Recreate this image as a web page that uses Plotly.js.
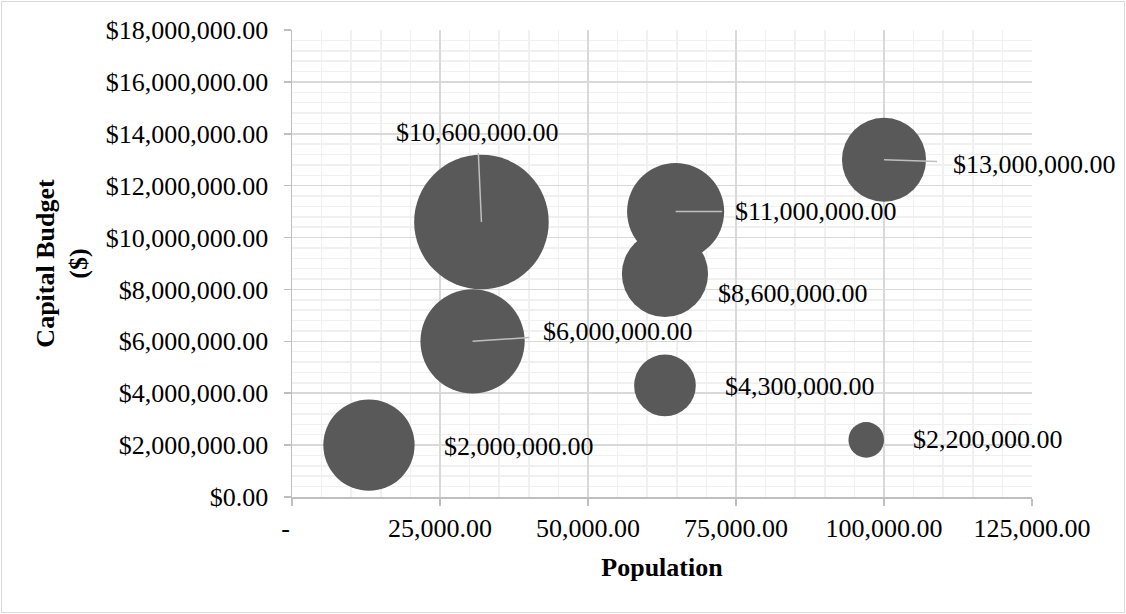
<!DOCTYPE html>
<html>
<head>
<meta charset="utf-8">
<script src="https://cdn.plot.ly/plotly-3.0.1.min.js"></script>
<style>
  html, body { margin: 0; padding: 0; background: #fff; }
  #wrap { position: relative; width: 1126px; height: 614px; }
  #chart { width: 1126px; height: 614px; }
  #frame { position: absolute; left: 1px; top: 1px; width: 1124px; height: 612px; box-sizing: border-box; border: 1px solid #d9d9d9; pointer-events: none; }
</style>
</head>
<body>
<div id="wrap"><div id="chart"></div><div id="frame"></div></div>
<script>
// ---- data ----
const population    = [13000, 30500, 32000, 64800, 63000, 63000, 100000, 97000];
const capitalBudget = [2000000, 6000000, 10600000, 11000000, 8600000, 4300000, 13000000, 2200000];
const bubbleSize    = [46, 60, 100, 52, 41, 21, 39, 7];
const xTickValues   = [0, 25000, 50000, 75000, 100000, 125000];
const xTickLabels   = ['-\u00a0\u00a0', '25,000.00', '50,000.00', '75,000.00', '100,000.00', '125,000.00'];

// ---- label placement (pixel offsets from each bubble centre) ----
const labelPlacement = [
  {dx: 150, dy: 1,   leader: false},
  {dx: 145, dy: -10, leader: true, gap: 12},
  {dx: -4,  dy: -89, leader: true, gap: 4},
  {dx: 140, dy: 0,   leader: true, gap: 11},
  {dx: 128, dy: 20,  leader: false},
  {dx: 135, dy: 1,   leader: false},
  {dx: 150, dy: 5,   leader: true, gap: 14},
  {dx: 122, dy: 0,   leader: false}
];

const fmtMoney = v => '$' + v.toLocaleString('en-US', {minimumFractionDigits: 2, maximumFractionDigits: 2});
const FONT = 'Liberation Serif, Times New Roman, serif';
const maxDiameter = 134.6;

const trace = {
  type: 'scatter',
  mode: 'markers',
  x: population,
  y: capitalBudget,
  marker: {
    size: bubbleSize,
    sizemode: 'area',
    sizeref: 2 * Math.max(...bubbleSize) / (maxDiameter * maxDiameter),
    color: '#595959',
    opacity: 1,
    line: {width: 0}
  },
  hoverinfo: 'x+y',
  cliponaxis: false
};

const annotations = population.map((xv, i) => {
  const p = labelPlacement[i];
  const base = {
    x: xv, y: capitalBudget[i], xref: 'x', yref: 'y',
    text: fmtMoney(capitalBudget[i]),
    font: {family: FONT, size: 26, color: '#000'}
  };
  if (p.leader) {
    return Object.assign(base, {
      showarrow: true, arrowhead: 0, arrowwidth: 1.5, arrowcolor: '#bfbfbf',
      ax: p.dx, ay: p.dy, axref: 'pixel', ayref: 'pixel', startstandoff: p.gap
    });
  }
  return Object.assign(base, {showarrow: false, xshift: p.dx, yshift: -p.dy});
});

const layout = {
  width: 1126, height: 614, autosize: false,
  paper_bgcolor: '#fff', plot_bgcolor: '#fff',
  margin: {l: 292, r: 94, t: 30, b: 117},
  showlegend: false,
  font: {family: FONT, size: 26, color: '#000'},
  xaxis: {
    range: [0, 125000],
    tickmode: 'array', tickvals: xTickValues, ticktext: xTickLabels,
    showline: true, linecolor: '#bfbfbf', linewidth: 1.5,
    ticks: 'outside', ticklen: 7, tickcolor: '#bfbfbf', tickwidth: 1.5,
    showgrid: true, gridcolor: '#d9d9d9', gridwidth: 1.5,
    minor: {dtick: 5000, showgrid: true, gridcolor: '#f0f0f0', gridwidth: 1.5, ticks: ''},
    zeroline: false,
    tickfont: {family: FONT, size: 26, color: '#000'},
    title: {text: '<b>Population</b>', font: {family: FONT, size: 26, color: '#000'}, standoff: 16}
  },
  yaxis: {
    range: [0, 18000000], dtick: 2000000, tick0: 0,
    tickformat: '$,.2f',
    showline: true, linecolor: '#bfbfbf', linewidth: 1.5,
    ticks: 'outside', ticklen: 7, tickcolor: '#bfbfbf', tickwidth: 1.5,
    ticklabelstandoff: 10,
    showgrid: true, gridcolor: '#d9d9d9', gridwidth: 1.5,
    minor: {dtick: 400000, showgrid: true, gridcolor: '#f0f0f0', gridwidth: 1.5, ticks: ''},
    zeroline: false,
    tickfont: {family: FONT, size: 26, color: '#000'},
    title: {text: '<b>Capital Budget<br>($)</b>', font: {family: FONT, size: 26, color: '#000'}, standoff: 10}
  },
  annotations: annotations
};

Plotly.newPlot('chart', [trace], layout, {displayModeBar: false, staticPlot: true});
</script>
</body>
</html>
